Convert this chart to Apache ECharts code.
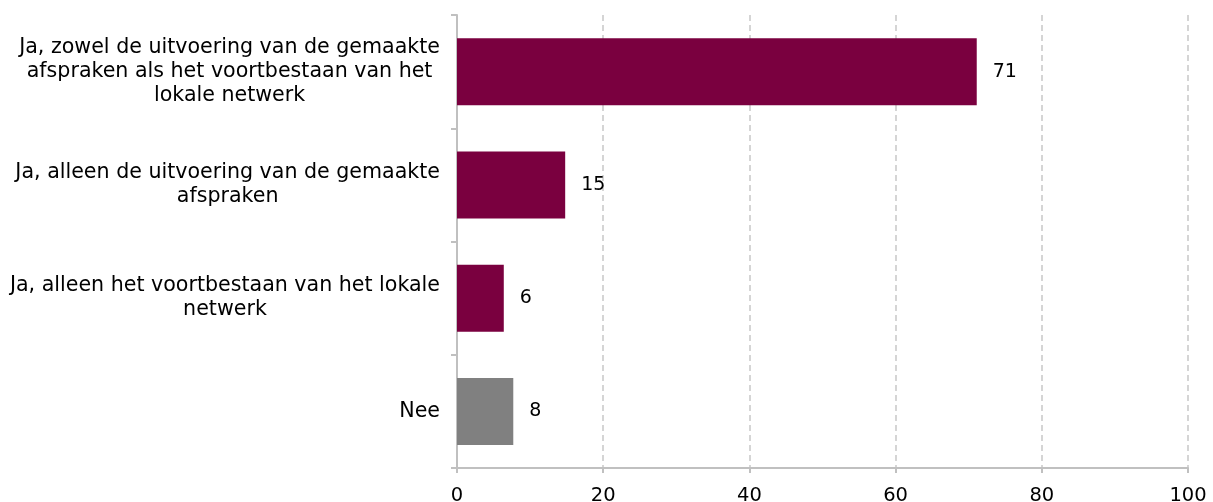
<!DOCTYPE html>
<html><head><meta charset="utf-8">
<script src="https://cdn.jsdelivr.net/npm/echarts@6/dist/echarts.min.js"></script>
<style>html,body{margin:0;padding:0;background:#fff}#c{width:1213px;height:502px}</style>
</head><body><div id="c"></div>
<script>
const categories = [
  'Ja, zowel de uitvoering van de gemaakte\nafspraken als het voortbestaan van het\nlokale netwerk',
  'Ja, alleen de uitvoering van de gemaakte\nafspraken',
  'Ja, alleen het voortbestaan van het lokale\nnetwerk',
  'Nee'
];
const values = [71.1, 14.8, 6.4, 7.7];
const labels = ['71', '15', '6', '8'];
const barColors = ['#7a003f', '#7a003f', '#7a003f', '#808080'];
const xTicks = [0, 20, 40, 60, 80, 100];

const FONT = 'DejaVu Sans';
const chart = echarts.init(document.getElementById('c'), null, {renderer: 'canvas'});
chart.setOption({
  animation: false,
  grid: {left: 457, right: 25, top: 15, bottom: 34, containLabel: false, outerBoundsMode: 'none'},
  xAxis: {
    type: 'value', min: xTicks[0], max: xTicks[xTicks.length - 1], interval: 20,
    axisLine: {show: true, lineStyle: {color: '#c0c0c0', width: 2}},
    axisTick: {show: true, length: 5, lineStyle: {color: '#c0c0c0', width: 2}},
    axisLabel: {color: '#000', fontFamily: FONT, fontSize: 19.5, margin: 18},
    splitLine: {show: true, lineStyle: {color: '#c8c8c8', type: [6, 4], width: 1.5}}
  },
  yAxis: {
    type: 'category', data: categories, inverse: true,
    axisLine: {show: true, lineStyle: {color: '#c0c0c0', width: 2}},
    axisTick: {show: true, length: 6, lineStyle: {color: '#c0c0c0', width: 2}},
    axisLabel: {
      margin: 17, fontFamily: FONT,
      formatter: v => v.split('\n').map(l => '{c|' + l + '}').join('\n'),
      rich: {c: {align: 'center', fontFamily: FONT, fontSize: 20.6, lineHeight: 24, color: '#000'}}
    },
    splitLine: {show: false}
  },
  series: [{
    type: 'bar', barWidth: 67,
    data: values.map((v, i) => ({value: v, itemStyle: {color: barColors[i]}})),
    label: {
      show: true, position: 'right', distance: 16,
      formatter: p => labels[p.dataIndex],
      fontFamily: FONT, fontSize: 19, color: '#000'
    }
  }]
});
</script></body></html>
